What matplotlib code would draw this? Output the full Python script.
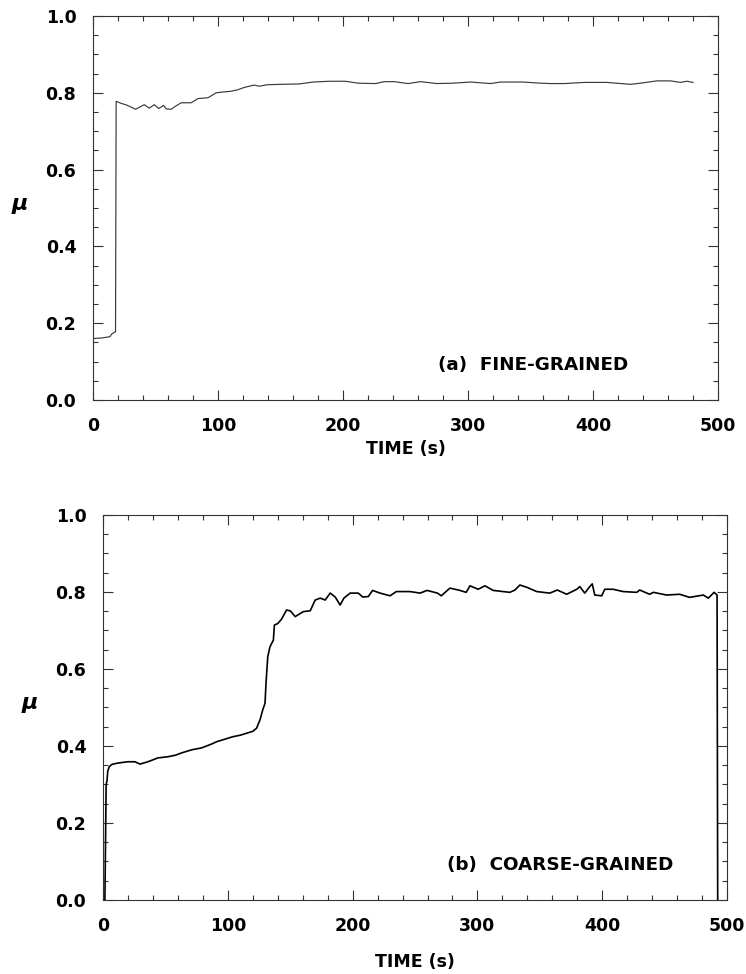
import matplotlib
matplotlib.use("Agg")
import matplotlib.pyplot as plt
from matplotlib.ticker import MultipleLocator

# Friction coefficient vs. sliding time, fine-grained specimen
t_fine = [0, 8, 13.5, 15, 18.0, 18.5, 22, 27, 34, 41, 45, 49, 52.5, 56.5,
          58.5, 62.5, 66, 70.5, 78.5, 84, 92, 98.5, 104, 110.5, 116, 121,
          129, 133, 139.5, 150, 165, 176, 189, 202, 212, 226, 233, 241, 252,
          262, 275, 288, 302, 318, 326, 344, 358, 366, 377, 393, 411, 430,
          438, 451, 462, 470, 475, 480]
mu_fine = [0.160, 0.162, 0.165, 0.172, 0.178, 0.778, 0.773, 0.768, 0.757,
           0.769, 0.760, 0.769, 0.759, 0.767, 0.758, 0.757, 0.765, 0.774,
           0.774, 0.785, 0.787, 0.800, 0.802, 0.804, 0.808, 0.814, 0.820,
           0.817, 0.821, 0.822, 0.823, 0.828, 0.830, 0.830, 0.825, 0.824,
           0.829, 0.829, 0.824, 0.829, 0.824, 0.825, 0.828, 0.824, 0.828,
           0.828, 0.825, 0.824, 0.824, 0.827, 0.827, 0.822, 0.825, 0.831,
           0.831, 0.827, 0.830, 0.827]

# Friction coefficient vs. sliding time, coarse-grained specimen
t_coarse = [0, 1.5, 2.5, 3.2, 3.8, 5, 7, 11, 15, 20,
            25.6, 29.6, 36, 44, 52, 58, 63, 71, 79, 87,
            91, 98, 104, 110, 115, 120, 123, 125.8, 128, 129.8,
            130.6, 132, 133.8, 136.5, 137.3, 140, 143, 147, 150, 154,
            160.5, 166, 170, 174, 178, 182, 186, 190, 193, 198,
            204.5, 208, 212.5, 216, 222, 230, 235, 246, 254, 259.6,
            268, 271, 278, 286, 291, 294, 300.6, 306, 312.6, 320.6,
            326, 330, 334, 339.7, 347.5, 358, 364, 371.5, 379.6, 382,
            386, 390, 392, 394, 399.6, 402, 408.7, 416.7, 427.6, 430,
            438, 441, 451.6, 462, 470, 481, 485, 489.6, 492, 492.5]
mu_coarse = [0.0, 0.0, 0.30, 0.31, 0.335, 0.346, 0.352, 0.355, 0.357, 0.359,
             0.359, 0.353, 0.359, 0.369, 0.372, 0.376, 0.382, 0.390, 0.395, 0.405,
             0.411, 0.418, 0.424, 0.428, 0.433, 0.438, 0.446, 0.468, 0.494, 0.511,
             0.563, 0.632, 0.658, 0.675, 0.714, 0.718, 0.729, 0.753, 0.751, 0.736,
             0.749, 0.751, 0.779, 0.784, 0.779, 0.797, 0.787, 0.766, 0.784, 0.797,
             0.797, 0.787, 0.788, 0.804, 0.797, 0.790, 0.801, 0.801, 0.797, 0.804,
             0.797, 0.790, 0.810, 0.804, 0.799, 0.816, 0.807, 0.816, 0.804, 0.801,
             0.799, 0.805, 0.818, 0.812, 0.801, 0.797, 0.805, 0.794, 0.807, 0.814,
             0.797, 0.814, 0.821, 0.792, 0.790, 0.807, 0.807, 0.801, 0.799, 0.805,
             0.794, 0.799, 0.792, 0.794, 0.786, 0.792, 0.784, 0.799, 0.792, 0.0]

x_ticks = [0, 100, 200, 300, 400, 500]
y_ticks = [0.0, 0.2, 0.4, 0.6, 0.8, 1.0]
panel_labels = ["(a)  FINE-GRAINED", "(b)  COARSE-GRAINED"]

plt.rcParams["font.family"] = "DejaVu Sans"
plt.rcParams["font.weight"] = "bold"

fig = plt.figure(figsize=(7.46, 9.74), dpi=100)
ax_a = fig.add_axes([0.1247, 0.5893, 0.8378, 0.3943])
ax_b = fig.add_axes([0.1381, 0.0760, 0.8365, 0.3953])

ax_a.plot(t_fine, mu_fine, color="#3a3a3a", lw=0.85)
ax_b.plot(t_coarse, mu_coarse, color="black", lw=1.2)

for ax, label, xpad in zip((ax_a, ax_b), panel_labels, (4, 13)):
    ax.set_xlim(0, 500)
    ax.set_ylim(0, 1.0)
    ax.set_xticks(x_ticks)
    ax.set_yticks(y_ticks)
    ax.set_xticklabels([str(v) for v in x_ticks])
    ax.set_yticklabels([f"{v:.1f}" for v in y_ticks])
    ax.xaxis.set_minor_locator(MultipleLocator(20))
    ax.yaxis.set_minor_locator(MultipleLocator(0.05))
    ax.tick_params(which="both", direction="in", top=True, right=True,
                   width=0.8, color="#333333")
    ax.tick_params(which="major", length=7)
    ax.tick_params(which="minor", length=3.5)
    ax.tick_params(axis="x", which="major", pad=12, labelsize=12.5)
    ax.tick_params(axis="y", which="major", pad=12, labelsize=12.5)
    for s in ax.spines.values():
        s.set_linewidth(0.8)
        s.set_color("#333333")
    ax.set_xlabel("TIME (s)", fontsize=12.5, fontweight="bold", labelpad=xpad)
    ax.set_ylabel("μ", fontsize=16, fontstyle="italic", fontweight="bold",
                  rotation=0)
    ax.yaxis.set_label_coords(-0.117, 0.485)
    ax.text(276, 0.078, label, fontsize=13.2, fontweight="bold",
            ha="left", va="baseline")

fig.savefig("out.png", dpi=100)
